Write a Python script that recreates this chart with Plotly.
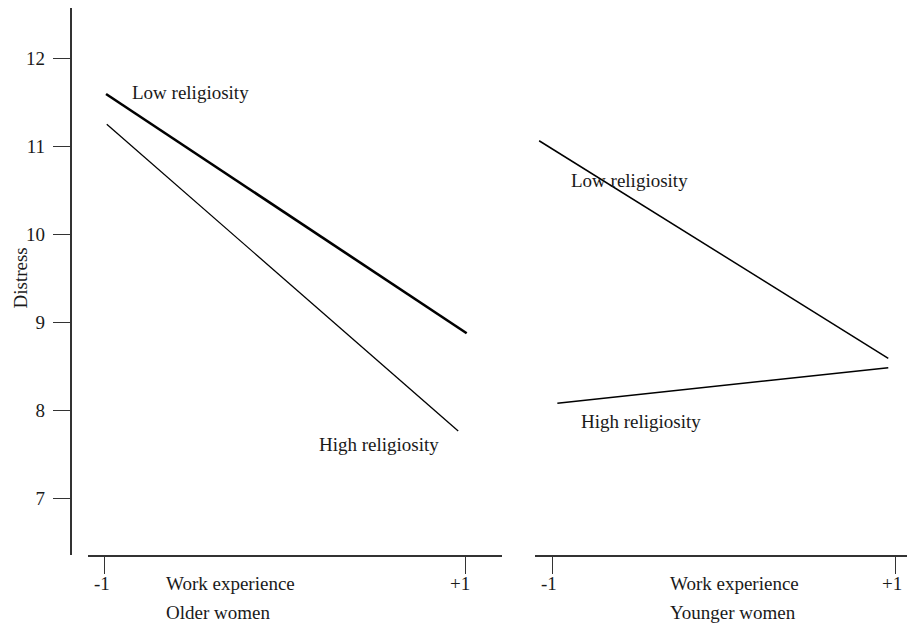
import plotly.graph_objects as go

# ---- data ----
older_low_x = [-0.994, 1.004]
older_low_y = [11.595, 8.878]
older_high_x = [-0.99, 0.957]
older_high_y = [11.251, 7.769]
younger_low_x = [-1.077, 0.955]
younger_low_y = [11.064, 8.594]
younger_high_x = [-0.971, 0.955]
younger_high_y = [8.083, 8.487]

x_tick_vals = [-1, 1]
x_tick_text = ["-1", "+1"]
y_tick_vals = [7, 8, 9, 10, 11, 12]
y_tick_text = ["7", "8", "9", "10", "11", "12"]

series_labels = ["Low religiosity", "High religiosity"]
label_pos_older = [(-0.861, 11.617), (0.176, 7.621)]
label_pos_younger = [(-0.901, 10.618), (-0.843, 7.874)]

panel_titles = ["Older women", "Younger women"]
x_title = "Work experience"
y_title = "Distress"

# page body has an 8px margin, so the figure is drawn 8px in from the top-left
OFF = 8
W, H = 915 - OFF, 635 - OFF
FONT = "Liberation Serif, Times New Roman, serif"
INK = "#1a1a1a"
FS = 19


def xp(p):
    return (p - OFF) / W


def yp(p):
    return (H - (p - OFF)) / H


fig = go.Figure()
fig.add_trace(go.Scatter(x=older_low_x, y=older_low_y, mode="lines",
                         line=dict(color="black", width=2.6), xaxis="x", yaxis="y"))
fig.add_trace(go.Scatter(x=older_high_x, y=older_high_y, mode="lines",
                         line=dict(color="black", width=1.3), xaxis="x", yaxis="y"))
fig.add_trace(go.Scatter(x=younger_low_x, y=younger_low_y, mode="lines",
                         line=dict(color="black", width=1.5), xaxis="x2", yaxis="y"))
fig.add_trace(go.Scatter(x=younger_high_x, y=younger_high_y, mode="lines",
                         line=dict(color="black", width=1.5), xaxis="x2", yaxis="y"))

txtfont = dict(size=FS, color=INK, family=FONT)
ann = []
for (lx, ly), txt in zip(label_pos_older, series_labels):
    ann.append(dict(x=lx, y=ly, xref="x", yref="y", text=txt, showarrow=False,
                    xanchor="left", yanchor="middle", font=txtfont))
for (lx, ly), txt in zip(label_pos_younger, series_labels):
    ann.append(dict(x=lx, y=ly, xref="x2", yref="y", text=txt, showarrow=False,
                    xanchor="left", yanchor="middle", font=txtfont))

# x tick labels (placed at the tick values, nudged like the reference)
for xr, shifts in zip(["x", "x2"], [(-3, -6), (-3, -4)]):
    for v, t, s in zip(x_tick_vals, x_tick_text, shifts):
        ann.append(dict(x=v, y=yp(583), xref=xr, yref="paper", text=t, showarrow=False,
                        xanchor="center", yanchor="middle", xshift=s, font=txtfont))

# axis titles placed like the reference
for cx in [230, 734.7]:
    ann.append(dict(x=xp(cx), y=yp(583), xref="paper", yref="paper", text=x_title,
                    showarrow=False, xanchor="center", yanchor="middle", font=txtfont))
for cx, title in zip([218, 733.3], panel_titles):
    ann.append(dict(x=xp(cx), y=yp(612), xref="paper", yref="paper", text=title,
                    showarrow=False, xanchor="center", yanchor="middle", font=txtfont))
ann.append(dict(x=0, y=yp(278), xref="paper", yref="paper", text=y_title,
                showarrow=False, textangle=-90, xanchor="left", yanchor="middle",
                borderpad=0, font=txtfont))

xaxis_common = dict(showgrid=False, zeroline=False, showline=True, linecolor="#333",
                    linewidth=1.6, ticks="outside", ticklen=17, tickwidth=1.3,
                    tickcolor="#333", tickvals=x_tick_vals, showticklabels=False,
                    anchor="free", position=yp(556), side="bottom", automargin=False)

y_top_px = OFF  # top of plotting area in page pixels
fig.update_layout(
    width=W, height=H,
    margin=dict(l=0, r=0, t=0, b=0, autoexpand=False),
    paper_bgcolor="white", plot_bgcolor="white",
    showlegend=False,
    font=dict(family=FONT, color=INK, size=FS),
    xaxis=dict(domain=[xp(88), xp(501.7)], range=[-1.094, 1.198], **xaxis_common),
    xaxis2=dict(domain=[xp(535), xp(913)], range=[-1.101, 1.099], **xaxis_common),
    yaxis=dict(domain=[yp(555), yp(y_top_px)],
               range=[7 - (555 - 498.7) / 88.08, 12 + (58.3 - y_top_px) / 88.08],
               showgrid=False, zeroline=False, showline=True, linecolor="#333",
               linewidth=1.6, ticks="outside", ticklen=17, tickwidth=1.3, tickcolor="#333",
               tickvals=y_tick_vals, ticktext=y_tick_text,
               tickfont=txtfont, ticklabelstandoff=4,
               anchor="free", position=xp(70.7), automargin=False),
    annotations=ann,
)

fig.write_html("out.html")
